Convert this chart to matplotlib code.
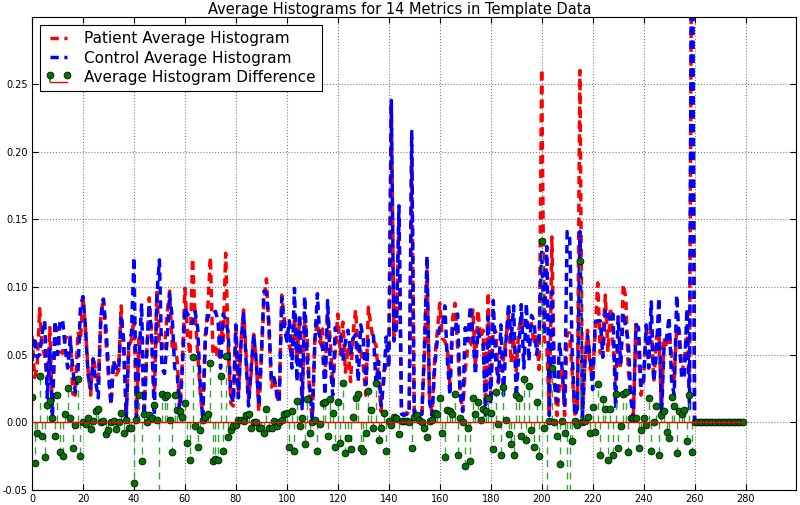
import numpy as np
import matplotlib
matplotlib.use("Agg")
import matplotlib.pyplot as plt

# average histogram values per bin (bins 0..279)
patient = [
    0.064, 0.033, 0.040, 0.084, 0.056, 0.049, 0.031, 0.070, 0.007, 0.065,
    0.070, 0.052, 0.051, 0.061, 0.065, 0.065, 0.021, 0.020, 0.067, 0.060,
    0.093, 0.069, 0.038, 0.020, 0.048, 0.038, 0.028, 0.078, 0.092, 0.061,
    0.034, 0.013, 0.046, 0.035, 0.038, 0.086, 0.052, 0.005, 0.056, 0.061,
    0.077, 0.005, 0.065, 0.059, 0.010, 0.050, 0.092, 0.063, 0.018, 0.096,
    0.060, 0.061, 0.055, 0.080, 0.097, 0.056, 0.060, 0.045, 0.012, 0.044,
    0.099, 0.065, 0.050, 0.121, 0.079, 0.052, 0.022, 0.004, 0.064, 0.085,
    0.122, 0.051, 0.055, 0.047, 0.074, 0.059, 0.125, 0.055, 0.014, 0.012,
    0.070, 0.020, 0.060, 0.083, 0.050, 0.018, 0.036, 0.065, 0.045, 0.008,
    0.046, 0.089, 0.106, 0.068, 0.026, 0.034, 0.019, 0.015, 0.094, 0.076,
    0.067, 0.057, 0.048, 0.078, 0.046, 0.077, 0.013, 0.077, 0.062, 0.017,
    0.003, 0.062, 0.074, 0.059, 0.069, 0.035, 0.080, 0.062, 0.027, 0.052,
    0.080, 0.050, 0.074, 0.037, 0.056, 0.030, 0.066, 0.083, 0.051, 0.053,
    0.041, 0.020, 0.085, 0.071, 0.060, 0.057, 0.032, 0.008, 0.037, 0.042,
    0.041, 0.236, 0.064, 0.073, 0.151, 0.007, 0.006, 0.007, 0.006, 0.196,
    0.008, 0.008, 0.007, 0.006, 0.051, 0.112, 0.016, 0.007, 0.047, 0.066,
    0.088, 0.062, 0.060, 0.054, 0.028, 0.076, 0.088, 0.056, 0.023, 0.008,
    0.038, 0.056, 0.057, 0.083, 0.041, 0.083, 0.062, 0.068, 0.013, 0.096,
    0.020, 0.070, 0.067, 0.029, 0.048, 0.046, 0.062, 0.079, 0.044, 0.062,
    0.038, 0.068, 0.077, 0.072, 0.075, 0.072, 0.073, 0.057, 0.065, 0.039,
    0.261, 0.060, 0.058, 0.006, 0.137, 0.030, 0.005, 0.028, 0.041, 0.005,
    0.066, 0.066, 0.036, 0.006, 0.008, 0.260, 0.004, 0.046, 0.068, 0.040,
    0.035, 0.067, 0.103, 0.051, 0.065, 0.094, 0.052, 0.085, 0.056, 0.031,
    0.059, 0.040, 0.102, 0.092, 0.038, 0.020, 0.006, 0.075, 0.051, 0.020,
    0.033, 0.070, 0.058, 0.068, 0.030, 0.062, 0.068, 0.008, 0.063, 0.055,
    0.066, 0.049, 0.032, 0.071, 0.068, 0.038, 0.044, 0.070, 0.030, 0.430,
    0.0, 0.0, 0.0, 0.0, 0.0, 0.0, 0.0, 0.0, 0.0, 0.0,
    0.0, 0.0, 0.0, 0.0, 0.0, 0.0, 0.0, 0.0, 0.0, 0.0,
]

control = [
    0.045, 0.063, 0.048, 0.050, 0.066, 0.075, 0.018, 0.054, 0.004, 0.075,
    0.050, 0.074, 0.076, 0.055, 0.040, 0.062, 0.040, 0.022, 0.035, 0.085,
    0.093, 0.070, 0.035, 0.025, 0.047, 0.030, 0.018, 0.078, 0.091, 0.070,
    0.040, 0.013, 0.045, 0.040, 0.038, 0.079, 0.060, 0.003, 0.060, 0.065,
    0.122, 0.003, 0.045, 0.088, 0.004, 0.050, 0.087, 0.060, 0.005, 0.094,
    0.120, 0.040, 0.036, 0.060, 0.095, 0.078, 0.040, 0.036, 0.004, 0.040,
    0.085, 0.080, 0.078, 0.073, 0.082, 0.070, 0.028, 0.002, 0.060, 0.079,
    0.078, 0.080, 0.082, 0.075, 0.040, 0.080, 0.076, 0.066, 0.020, 0.015,
    0.072, 0.018, 0.058, 0.082, 0.045, 0.012, 0.040, 0.065, 0.045, 0.012,
    0.050, 0.097, 0.096, 0.072, 0.030, 0.033, 0.022, 0.015, 0.092, 0.070,
    0.060, 0.075, 0.040, 0.099, 0.030, 0.080, 0.010, 0.093, 0.045, 0.025,
    0.003, 0.060, 0.095, 0.060, 0.055, 0.020, 0.090, 0.045, 0.020, 0.070,
    0.065, 0.065, 0.045, 0.060, 0.068, 0.050, 0.062, 0.065, 0.030, 0.072,
    0.062, 0.028, 0.062, 0.062, 0.064, 0.028, 0.045, 0.012, 0.030, 0.063,
    0.040, 0.238, 0.060, 0.070, 0.160, 0.006, 0.005, 0.006, 0.006, 0.215,
    0.004, 0.003, 0.005, 0.006, 0.055, 0.123, 0.015, 0.005, 0.040, 0.060,
    0.070, 0.070, 0.086, 0.045, 0.020, 0.070, 0.067, 0.080, 0.020, 0.008,
    0.070, 0.060, 0.086, 0.065, 0.035, 0.068, 0.060, 0.058, 0.005, 0.078,
    0.013, 0.090, 0.045, 0.030, 0.072, 0.020, 0.060, 0.088, 0.060, 0.086,
    0.018, 0.050, 0.087, 0.040, 0.088, 0.045, 0.079, 0.075, 0.050, 0.064,
    0.127, 0.064, 0.130, 0.005, 0.097, 0.030, 0.015, 0.059, 0.040, 0.013,
    0.141, 0.136, 0.050, 0.005, 0.010, 0.141, 0.004, 0.045, 0.064, 0.048,
    0.024, 0.074, 0.075, 0.075, 0.048, 0.084, 0.080, 0.075, 0.080, 0.010,
    0.078, 0.043, 0.081, 0.070, 0.060, 0.017, 0.003, 0.072, 0.070, 0.026,
    0.030, 0.072, 0.040, 0.089, 0.030, 0.050, 0.092, 0.003, 0.055, 0.062,
    0.078, 0.030, 0.020, 0.094, 0.060, 0.032, 0.035, 0.084, 0.010, 0.452,
    0.0, 0.0, 0.0, 0.0, 0.0, 0.0, 0.0, 0.0, 0.0, 0.0,
    0.0, 0.0, 0.0, 0.0, 0.0, 0.0, 0.0, 0.0, 0.0, 0.0,
]

patient = np.array(patient)
control = np.array(control)
bins = np.arange(len(patient))
difference = patient - control

fig = plt.figure(figsize=(8, 5.05), dpi=100)
ax = fig.add_axes([0.04, 0.03, 0.955, 0.936])

dash = (0, (2.4, 1.6))
ax.plot(bins, patient, color='red', linestyle=dash, linewidth=2.5,
        label='Patient Average Histogram')
ax.plot(bins, control, color='blue', linestyle=dash, linewidth=2.5,
        label='Control Average Histogram')
markers, stems, base = ax.stem(bins, difference, linefmt='g--', markerfmt='go',
                               basefmt='r-', label='Average Histogram Difference')
plt.setp(stems, color=(0.2, 0.65, 0.2), linewidth=1.0, linestyle=(0, (5, 4)))
plt.setp(markers, markersize=5, markerfacecolor=(0, 0.45, 0),
         markeredgecolor='black', markeredgewidth=0.5)
plt.setp(base, color='red', linewidth=1.0)

ax.set_xlim(0, 299.8)
ax.set_ylim(-0.05, 0.2995)
ax.set_xticks(np.arange(0, 281, 20))
ax.set_yticks([-0.05, 0.0, 0.05, 0.10, 0.15, 0.20, 0.25])
ax.set_yticklabels(['-0.05', '0.00', '0.05', '0.10', '0.15', '0.20', '0.25'])
ax.tick_params(labelsize=7, direction='in', top=True, right=True, length=4, pad=3)
ax.grid(True, color='gray', linestyle=':', linewidth=0.8)

leg = ax.legend(loc='upper left', fontsize=11, fancybox=False, framealpha=1,
                edgecolor='black', borderaxespad=0.5, handlelength=1.7,
                numpoints=2, labelspacing=0.3)
leg.get_frame().set_linewidth(0.8)

fig.suptitle('Average Histograms for 14 Metrics in Template Data', fontsize=10.5,
             y=0.997, va='top')

fig.savefig('out.png', dpi=100)
